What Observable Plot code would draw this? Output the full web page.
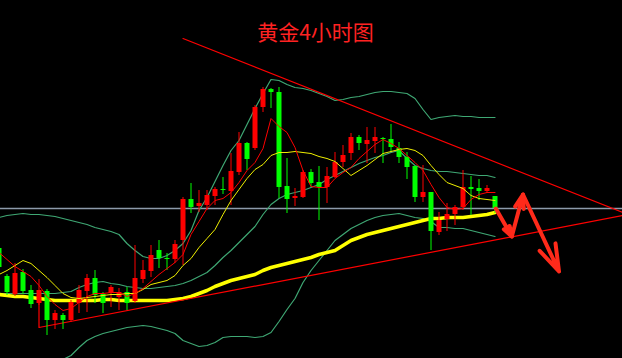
<!DOCTYPE html>
<html>
<head>
<meta charset="utf-8">
<script src="https://cdn.jsdelivr.net/npm/d3@7"></script>
<script src="https://cdn.jsdelivr.net/npm/@observablehq/plot@0.6"></script>
<style>
  html, body { margin: 0; padding: 0; background: #000; }
  #chart { width: 622px; height: 358px; overflow: hidden; }
</style>
</head>
<body>
<div id="chart"></div>
<script>
// Chart title
const title = "黄金4小时图";

// Candles (index 0..62), price units
const open  = [110,82,64,86,68,55,67,38,43,38,55,67,80,64,65,61,66,57,79,87,108,100,99,118,159,152,153,162,169,167,186,215,210,251,269,266,172,160,161,186,176,171,181,196,205,221,214,217,220,219,210,201,192,161,166,126,139,144,151,171,170,167,162];
const high  = [113,84,95,89,73,79,69,48,45,58,73,84,88,66,73,70,71,113,98,113,118,105,118,161,175,168,168,171,181,205,226,216,253,271,270,271,200,170,188,189,192,191,206,213,225,223,231,231,221,234,216,206,192,193,166,146,155,153,188,182,179,173,162];
const low   = [88,63,62,64,50,53,23,29,29,36,45,46,55,45,51,48,48,55,75,81,90,88,95,93,145,146,148,153,164,153,183,188,208,246,250,160,145,152,160,171,138,155,180,191,198,208,195,205,195,206,195,179,156,156,108,123,127,133,148,143,158,165,145];
const close = [91,66,85,67,54,68,38,45,38,56,68,80,63,55,71,66,55,80,88,103,100,99,114,159,151,155,163,169,168,187,215,199,251,269,266,171,159,162,186,175,171,182,196,203,221,215,218,221,219,211,201,191,161,166,127,138,144,151,171,169,167,170,150];

// Moving averages and Bollinger bands, one value per candle
const maRed     = [106,99,92,87,82,73,62,54,48,50,56,62,65,65,66,66,62,65,70,77,84,90,96,104,124,137,150,158,160,166,176,188,196,210,240,232,226,211,188,172,171,171,180,186,191,200,207,214,219,215,210,203,196,188,174,161,151,149,150,159,164,166,166];
const maYellow  = [84,88,93,98,95,88,81,73,65,61,60,61,62,63,64,64,65,65,69,74,76,78,83,93,100,111,120,129,144,158,169,180,189,194,203,206,206,207,206,205,202,200,197,190,183,188,193,199,205,207,209,210,208,203,193,184,176,173,170,163,160,159,158];
const maLong    = [64,63,62,62,61,60,59,58,58,58,58,58,58,59,59,58,58,58,58,58,58,58,59,60,62,65,68,72,75,78,80,82,84,88,91,93,95,97,99,101,104,106,108,113,118,121,124,126,128,130,132,134,136,138,140,140,141,141,141,142,143,144,146];
const bollUpper = [141,143,144,145,144,144,143,142,140,138,136,134,131,129,127,124,115,108,102,100,100,103,108,115,128,148,161,177,193,208,218,234,250,265,279,278,274,271,270,268,265,262,258,259,261,262,264,266,267,267,266,265,260,249,239,241,242,243,242,242,241,241,241];
const bollMid   = [65,65,65,65,65,65,65,65,66,67,71,74,76,77,75,74,72,71,70,70,71,72,73,75,78,82,86,93,101,108,116,124,132,144,154,160,164,166,168,171,174,179,183,187,191,195,198,201,203,206,208,200,193,190,188,187,187,186,185,184,183,183,181];
const bollLower = [-37,-32,-27,-22,-18,-14,-10,-6,-1,3,11,18,22,25,27,29,31,32,33,32,30,28,25,18,15,12,13,16,21,22,22,22,21,22,26,37,49,60,76,88,98,108,118,124,130,134,138,141,143,144,145,143,141,140,137,131,131,130,130,128,126,124,122];

// Horizontal reference level
const refLevel = 150;

// Hand-drawn triangle (index, price)
const triUpperX = [23, 78];
const triUpperY = [320, 146];
const triLowerX = [5, 5, 78];
const triLowerY = [65, 31, 143];

// Forecast zigzag arrows (index, price)
const arrowX = [62.1, 64.1, 65.5, 70];
const arrowY = [150, 122, 164, 87];

// ---- build tables ----
const candles = open.map((o, i) => ({
  i, open: o, high: high[i], low: low[i], close: close[i],
  up: close[i] >= o
}));
const series = (arr) => arr.map((v, i) => ({i, v}));
const triUpper = triUpperX.map((x, j) => ({x, y: triUpperY[j]}));
const triLower = triLowerX.map((x, j) => ({x, y: triLowerY[j]}));
const arrows = arrowX.slice(0, -1).map((x, j) => ({x1: x, y1: arrowY[j], x2: arrowX[j + 1], y2: arrowY[j + 1]}));

const RED = "#ff0000", GREEN = "#00ff00", TEAL = "#3fa874";
const col = d => d.up ? RED : GREEN;

const chart = Plot.plot({
  width: 622,
  height: 358,
  margin: 0,
  style: {background: "#000", overflow: "hidden"},
  x: {type: "linear", domain: [0.1875, 77.9375], axis: null},
  y: {type: "linear", domain: [0, 358], axis: null},
  marks: [
    Plot.ruleY([refLevel], {stroke: "#8d9aaa", strokeWidth: 1.5}),
    Plot.line(series(bollUpper), {x: "i", y: "v", stroke: TEAL, strokeWidth: 1.2, clip: true}),
    Plot.line(series(bollMid), {x: "i", y: "v", stroke: TEAL, strokeWidth: 1.2, clip: true}),
    Plot.line(series(bollLower), {x: "i", y: "v", stroke: TEAL, strokeWidth: 1.2, clip: true}),
    Plot.line(series(maLong), {x: "i", y: "v", stroke: "#ffff00", strokeWidth: 3.5, clip: true}),
    Plot.line(triUpper, {x: "x", y: "y", stroke: RED, strokeWidth: 1.2, clip: true}),
    Plot.line(triLower, {x: "x", y: "y", stroke: RED, strokeWidth: 1.2, clip: true}),
    Plot.ruleX(candles, {x: "i", y1: "low", y2: "high", stroke: col, strokeWidth: 1}),
    Plot.ruleX(candles, {x: "i", y1: "open", y2: "close", stroke: col, strokeWidth: 5, strokeLinecap: "butt"}),
    Plot.line(series(maYellow), {x: "i", y: "v", stroke: "#f0f000", strokeWidth: 1, clip: true}),
    Plot.line(series(maRed), {x: "i", y: "v", stroke: RED, strokeWidth: 1, clip: true}),
    Plot.arrow(arrows, {x1: "x1", y1: "y1", x2: "x2", y2: "y2", stroke: "#ff2a1a", strokeWidth: 4, headLength: 18, headAngle: 36, clip: true}),
    Plot.text([title], {frameAnchor: "top", dy: 33, dx: 4, lineAnchor: "middle", fill: "#ff2222", fontSize: 21, fontFamily: "'Noto Sans CJK SC', sans-serif"})
  ]
});
document.getElementById("chart").appendChild(chart);
</script>
</body>
</html>
